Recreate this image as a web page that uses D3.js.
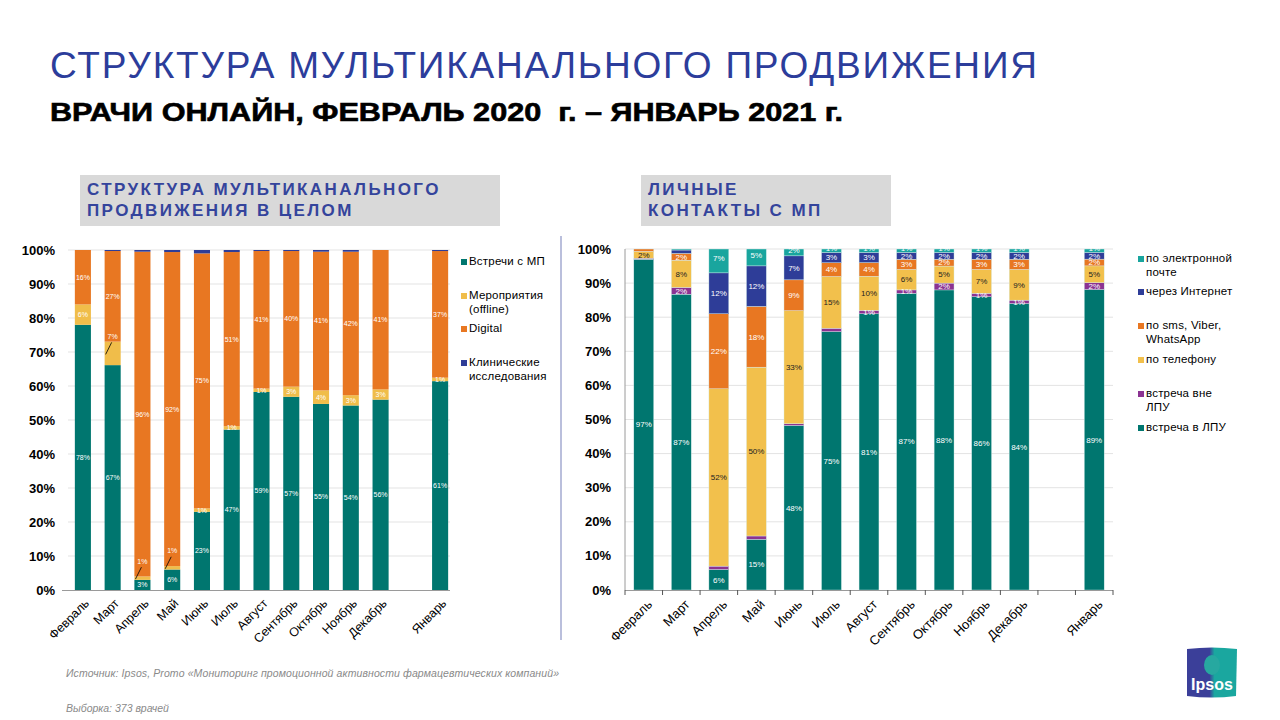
<!DOCTYPE html>
<html><head><meta charset="utf-8">
<script src="https://cdn.jsdelivr.net/npm/d3@7"></script>
<style>
body{margin:0;background:#fff;}
svg{font-family:"Liberation Sans",Arial,sans-serif;}
</style></head>
<body><svg id="c" width="1280" height="720"></svg>
<script>
// ---------- DATA ----------
const months = ["Февраль","Март","Апрель","Май","Июнь","Июль","Август","Сентябрь","Октябрь","Ноябрь","Декабрь","Январь"];
const yTicks = [0,0.1,0.2,0.3,0.4,0.5,0.6,0.7,0.8,0.9,1];
const yTickLabels = ["0%","10%","20%","30%","40%","50%","60%","70%","80%","90%","100%"];

// Left chart: overall structure
const leftSeriesNames = ["Встречи с МП","Мероприятия (offline)","Digital","Клинические исследования"];
const leftMeetings  = [78,67,3,6,23,47,59,57,55,54,56,61];
const leftEvents    = [6,7,1,1,1,1,1,3,4,3,3,1];
const leftDigital   = [16,27,96,92,75,51,41,40,41,42,41,37];
const leftClinical  = [0,0.3,0.5,0.6,1,0.6,0.3,0.3,0.5,0.5,0,0.3];
const leftColors = ["#00766f","#f0bd4a","#e87722","#2e3d98"];
const leftHidden = [["Июнь",3]];

// Right chart: personal contacts
const rightSeriesNames = ["встреча в ЛПУ","встреча вне ЛПУ","по телефону","по sms, Viber, WhatsApp","через Интернет","по электронной почте"];
const rightInLpu    = [97,87,6,15,48,75,81,87,88,86,84,89];
const rightOutLpu   = [0.3,2,1,1,0.5,1,1,1,2,1,1,2];
const rightPhone    = [2,8,52,50,33,15,10,6,5,7,9,5];
const rightSms      = [0.7,2,22,18,9,4,4,3,2,3,3,2];
const rightInternet = [0,1,12,12,7,3,3,2,2,2,2,2];
const rightEmail    = [0,0.3,7,5,2,1,1,1,1,1,1,1];
const rightColors = ["#00766f","#8b3392","#f2c04c","#e87722","#2e3d98","#19a59e"];
const rightHidden = [["Март",4],["Апрель",1],["Май",1],["Июль",1]];

// ---------- HELPERS ----------
const svg = d3.select("#c");
const slots = [...months.slice(0,11),"_gap",months[11]];
function rows(arrays, names){
  return months.map((m,i)=>{const o={month:m}; names.forEach((n,k)=>o[n]=arrays[k][i]); return o;});
}

// ---------- TITLES ----------
svg.append("text").attr("x",50).attr("y",78).attr("fill","#2c3d9b")
  .attr("font-size",37).attr("textLength",987).attr("lengthAdjust","spacing")
  .text("СТРУКТУРА МУЛЬТИКАНАЛЬНОГО ПРОДВИЖЕНИЯ");
svg.append("text").attr("x",50).attr("y",121).attr("fill","#000").attr("font-weight","bold")
  .attr("font-size",25).attr("xml:space","preserve").attr("textLength",793).attr("lengthAdjust","spacingAndGlyphs")
  .attr("stroke","#000").attr("stroke-width",0.6)
  .text("ВРАЧИ ОНЛАЙН, ФЕВРАЛЬ 2020  г. – ЯНВАРЬ 2021 г.");

// header boxes
function headerBox(x,w,lines){
  svg.append("rect").attr("x",x).attr("y",175).attr("width",w).attr("height",51).attr("fill","#d9d9d9");
  lines.forEach((t,i)=>svg.append("text").attr("x",x+7).attr("y",195+i*21).attr("fill","#34449c")
    .attr("font-weight","bold").attr("font-size",17).attr("letter-spacing",2.4).text(t));
}
headerBox(80,420,["СТРУКТУРА МУЛЬТИКАНАЛЬНОГО","ПРОДВИЖЕНИЯ В ЦЕЛОМ"]);
headerBox(641,250,["ЛИЧНЫЕ","КОНТАКТЫ С МП"]);

// separator
svg.append("line").attr("x1",561).attr("x2",561).attr("y1",236).attr("y2",640).attr("stroke","#a3aad0").attr("stroke-width",1.5);

// ---------- CHART FUNCTION ----------
function drawChart(o){
  const x = d3.scaleBand().domain(slots).range(o.xr).paddingInner(o.pad).paddingOuter(o.pad/2);
  const y = d3.scaleLinear().domain([0,1]).range([590,o.yTop]);
  const g = svg.append("g");
  // grid
  g.selectAll(".grid").data(yTicks.slice(1)).join("line")
    .attr("x1",o.gridX[0]).attr("x2",o.gridX[1]).attr("y1",d=>y(d)).attr("y2",d=>y(d))
    .attr("stroke","#e3e3e3").attr("stroke-width",1);
  // y labels
  g.selectAll(".yl").data(yTicks).join("text")
    .attr("x",o.yLabelX).attr("y",d=>y(d)).attr("dy","0.35em").attr("text-anchor","end")
    .attr("font-weight","bold").attr("font-size",13).attr("fill","#000")
    .text((d,i)=>yTickLabels[i]);
  const data = rows(o.arrays,o.names);
  const stack = d3.stack().keys(o.names).offset(d3.stackOffsetExpand)(data);
  const layers = g.selectAll(".layer").data(stack).join("g").attr("fill",(d,i)=>o.colors[i]);
  layers.selectAll("rect").data(d=>d).join("rect")
    .attr("x",d=>x(d.data.month)).attr("width",x.bandwidth())
    .attr("y",d=>y(d[1])).attr("height",d=>Math.max(0,y(d[0])-y(d[1])))
    .attr("stroke",o.stroke||"none").attr("stroke-width",0.4);
  // labels
  stack.forEach((layer,k)=>{
    layer.forEach(d=>{
      const v = d.data[o.names[k]];
      if(v<1) return;
      if(o.hidden && o.hidden.some(h=>h[0]===d.data.month && h[1]===k)) return;
      const xc = x(d.data.month)+x.bandwidth()/2;
      let yc = (y(d[0])+y(d[1]))/2;
      if(o.topShift && k===o.names.length-1) yc -= o.topShift;
      const lead = o.leaders && o.leaders.some(l=>l[0]===d.data.month && l[1]===k);
      if(lead){
        g.append("line").attr("x1",xc-7).attr("y1",yc+1).attr("x2",xc-1).attr("y2",yc-11)
          .attr("stroke","#000").attr("stroke-width",0.8);
        g.append("text").attr("x",xc).attr("y",yc-17).attr("dy","0.35em").attr("text-anchor","middle")
          .attr("font-size",o.labelSize).attr("fill","#fff").text(Math.round(v)+"%");
      } else {
        g.append("text").attr("x",xc).attr("y",yc).attr("dy","0.35em").attr("text-anchor","middle")
          .attr("font-size",o.labelSize).attr("fill",o.labelColors[k]).text(Math.round(v)+"%");
      }
    });
  });
  // axes
  g.append("line").attr("x1",o.baseX[0]).attr("x2",o.baseX[1]).attr("y1",590.5).attr("y2",590.5)
    .attr("stroke","#9a9a9a").attr("stroke-width",1.2);
  if(o.ticks){
    g.append("line").attr("x1",o.xr[0]).attr("x2",o.xr[0]).attr("y1",o.yTop).attr("y2",590)
      .attr("stroke","#9a9a9a").attr("stroke-width",1);
    const bounds = slots.map(s=>x(s)-x.step()*x.paddingInner()/2).concat([o.xr[1]]);
    g.selectAll(".tk").data(bounds).join("line").attr("x1",d=>d).attr("x2",d=>d)
      .attr("y1",590).attr("y2",595).attr("stroke","#555").attr("stroke-width",1);
  }
  g.selectAll(".xl").data(months).join("text")
    .attr("transform",d=>`translate(${x(d)+x.bandwidth()/2+o.xlOff},${o.xlY}) rotate(-45)`)
    .attr("text-anchor","end").attr("dy","0.35em").attr("font-size",o.xlSize).attr("fill","#000").text(d=>d);
}

drawChart({
  xr:[68,455], pad:0.46, yTop:250, gridX:[68,450], yLabelX:55, baseX:[62,450],
  arrays:[leftMeetings,leftEvents,leftDigital,leftClinical], names:leftSeriesNames, colors:leftColors,
  labelSize:7, labelColors:["#fff","#fff","#fff","#fff"], hidden:leftHidden,
  leaders:[["Март",1],["Апрель",1],["Май",1]],
  ticks:false, xlOff:4, xlY:601, xlSize:12.5
});
drawChart({
  xr:[625,1113], pad:0.47, yTop:249, gridX:[625,1113], yLabelX:611, baseX:[625,1113],
  arrays:[rightInLpu,rightOutLpu,rightPhone,rightSms,rightInternet,rightEmail], names:rightSeriesNames, colors:rightColors,
  labelSize:8, labelColors:["#fff","#fff","#222","#fff","#fff","#fff"], stroke:"#d8efee", hidden:rightHidden,
  topShift:2.5,
  ticks:true, xlOff:6, xlY:602, xlSize:13
});

// ---------- LEGENDS ----------
function legend(x, items){
  items.forEach(it=>{
    svg.append("rect").attr("x",x).attr("y",it.y-6).attr("width",6).attr("height",6).attr("fill",it.c);
    it.lines.forEach((t,i)=>svg.append("text").attr("x",x+8).attr("y",it.y+i*14)
      .attr("font-size",11.5).attr("fill","#000").attr("letter-spacing",0.2).text(t));
  });
}
legend(461,[
  {y:265,c:leftColors[0],lines:["Встречи с МП"]},
  {y:299,c:leftColors[1],lines:["Мероприятия","(offline)"]},
  {y:332,c:leftColors[2],lines:["Digital"]},
  {y:366,c:leftColors[3],lines:["Клинические","исследования"]}
]);
legend(1138,[
  {y:262,c:rightColors[5],lines:["по электронной","почте"]},
  {y:295,c:rightColors[4],lines:["через Интернет"]},
  {y:329,c:rightColors[3],lines:["по sms, Viber,","WhatsApp"]},
  {y:363,c:rightColors[2],lines:["по телефону"]},
  {y:397,c:rightColors[1],lines:["встреча  вне","ЛПУ"]},
  {y:431,c:rightColors[0],lines:["встреча  в ЛПУ"]}
]);

// ---------- FOOTER ----------
svg.append("text").attr("x",66).attr("y",677).attr("font-size",10.5).attr("font-style","italic").attr("fill","#8a8a8a")
  .attr("letter-spacing",0.1)
  .text("Источник: Ipsos, Promo «Мониторинг промоционной активности фармацевтических компаний»");
svg.append("text").attr("x",66).attr("y",712).attr("font-size",10.5).attr("font-style","italic").attr("fill","#8a8a8a")
  .text("Выборка: 373 врачей");

// Ipsos logo
const lg = svg.append("g").attr("transform","translate(1187,647)");
const grad = svg.append("defs").append("linearGradient").attr("id","lgG").attr("x1","0").attr("x2","1");
grad.append("stop").attr("offset","0.45").attr("stop-color","#3b3f99");
grad.append("stop").attr("offset","0.55").attr("stop-color","#1aa79f");
lg.append("path").attr("d","M0,2 Q25,-1 50,2 L49,49 Q25,52 0,49 Z").attr("fill","url(#lgG)");
lg.append("ellipse").attr("cx",25).attr("cy",18).attr("rx",8).attr("ry",10).attr("fill","#27a8a0");
lg.append("text").attr("x",25).attr("y",43).attr("text-anchor","middle").attr("fill","#fff")
  .attr("font-weight","bold").attr("font-size",16).text("Ipsos");
</script></body></html>
